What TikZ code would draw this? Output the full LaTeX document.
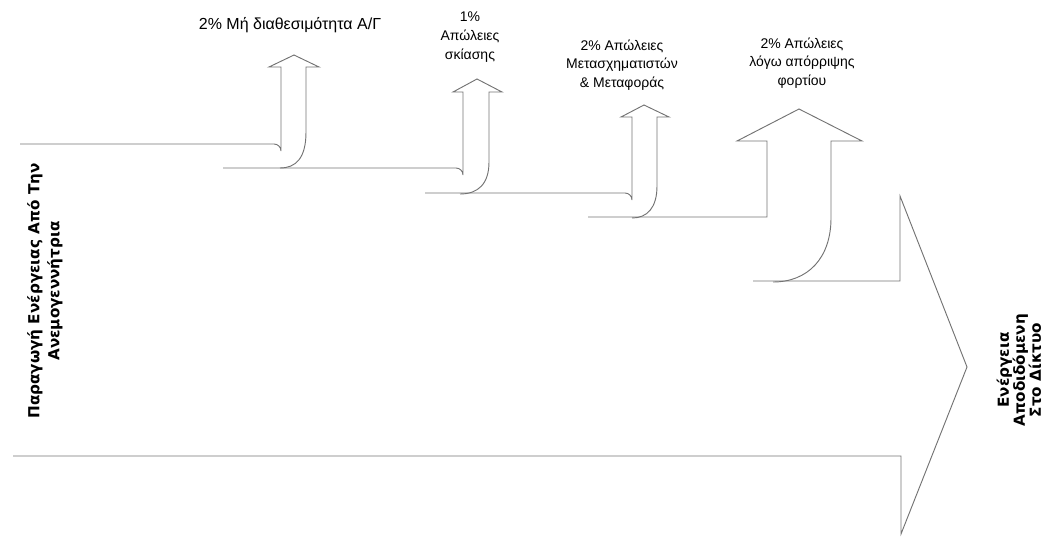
\documentclass[tikz,border=0pt]{standalone}
\usepackage{fontspec}
\setmainfont{Liberation Sans}
\newfontfamily\labelfont{DejaVu Sans}
\begin{document}
\begin{tikzpicture}[x=0.75pt,y=-0.75pt,
  flow/.style={draw=black!55,line width=0.7pt,line join=miter},
  losslabel/.style={font=\fontsize{10.5}{14}\selectfont,align=center,inner sep=0pt},
  sidelabel/.style={font=\labelfont\bfseries\fontsize{11.4}{15}\selectfont,align=center,rotate=90,inner sep=0pt}]
\useasboundingbox (0,0) rectangle (1043,536);

% band 1: 2% unavailability
\draw[flow] (20,144) -- (274,144) arc[start angle=270,end angle=360,radius=7] -- (281,67)
  -- (269,67) -- (294,55) -- (319,67) -- (306,67) -- (306,132)
  .. controls (306,158) and (296,168) .. (280,168);
% band 2: 1% shading
\draw[flow] (223,168) -- (456,168) arc[start angle=270,end angle=360,radius=7] -- (463,92)
  -- (453,92) -- (477,79) -- (502,92) -- (489,92) -- (489,162)
  .. controls (489,184) and (478,194) .. (460,194);
% band 3: 2% transformer and transmission
\draw[flow] (425,193) -- (625,193) arc[start angle=270,end angle=360,radius=7] -- (632,117)
  -- (621,117) -- (644,105) -- (669,117) -- (657,117) -- (657,186)
  .. controls (657,208) and (647,218) .. (632,218);
% band 4: 2% load rejection
\draw[flow] (588,217) -- (767,217) -- (767,141)
  -- (737,141) -- (799,109) -- (862,141) -- (831,141) -- (831,218)
  .. controls (831,258) and (808,282) .. (773,282);
% delivered energy: main arrow
\draw[flow] (753,281) -- (900,281) -- (900,196) -- (967,367) -- (901,534)
  -- (901,456) -- (13,456);

% labels of the losses
\node[losslabel,font=\fontsize{12}{14}\selectfont] (l1) at (290,25) {2\% Μή διαθεσιμότητα Α/Γ};
\node[losslabel] (l2) at (470,37) {1\%\\Απώλειες\\σκίασης};
\node[losslabel] (l3) at (622,65) {2\% Απώλειες\\Μετασχηματιστών\\\& Μεταφοράς};
\node[losslabel] (l4) at (802,63) {2\% Απώλειες\\λόγω απόρριψης\\φορτίου};

% side labels
\node[sidelabel] (src) at (45,291) {Παραγωγή Ενέργειας Από Την\\Ανεμογεννήτρια};
\node[sidelabel,font=\labelfont\bfseries\fontsize{11.4}{12}\selectfont] (out) at (1019,370) {Ενέργεια\\Αποδιδόμενη\\Στο Δίκτυο};
\end{tikzpicture}
\end{document}
